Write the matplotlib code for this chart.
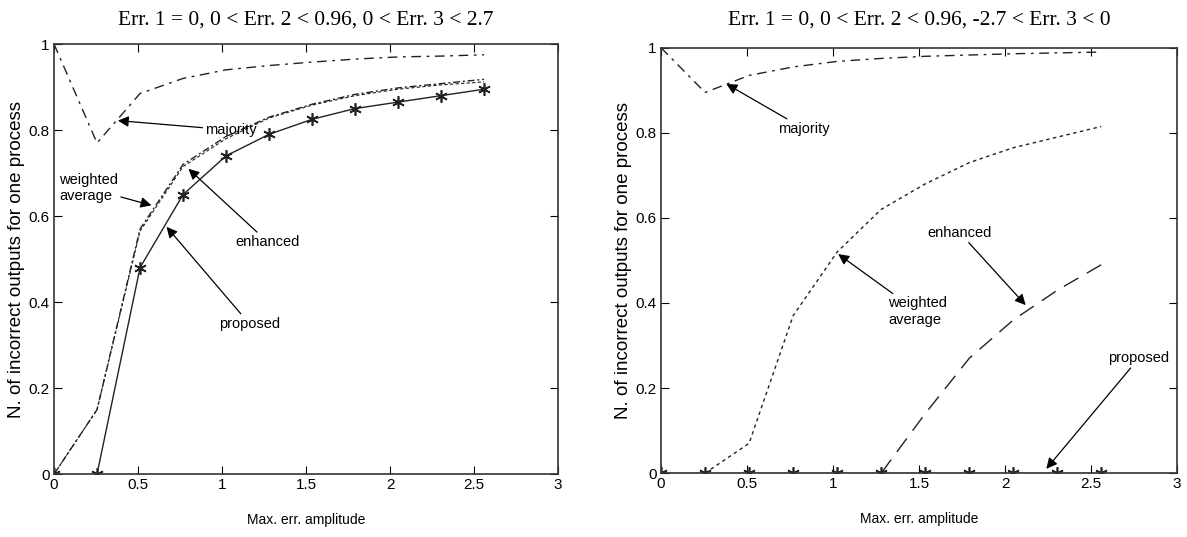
import numpy as np
import matplotlib
matplotlib.use("Agg")
import matplotlib.pyplot as plt

plt.rcParams['font.family'] = ['Liberation Sans', 'DejaVu Sans']

# shared x values (max. error amplitude)
x = [0, 0.256, 0.512, 0.768, 1.024, 1.28, 1.536, 1.792, 2.048, 2.304, 2.56]

# left panel: 0 < Err. 3 < 2.7
left_majority = [1.0, 0.77, 0.885, 0.92, 0.94, 0.95, 0.958, 0.965, 0.97, 0.972, 0.975]
left_weighted = [0.0, 0.15, 0.57, 0.72, 0.785, 0.83, 0.86, 0.883, 0.898, 0.908, 0.918]
left_enhanced = [0.0, 0.15, 0.565, 0.715, 0.78, 0.828, 0.858, 0.88, 0.895, 0.905, 0.912]
left_proposed = [0.0, 0.0, 0.48, 0.65, 0.74, 0.79, 0.825, 0.85, 0.865, 0.88, 0.895]

# right panel: -2.7 < Err. 3 < 0
right_majority = [1.0, 0.895, 0.935, 0.955, 0.968, 0.975, 0.98, 0.983, 0.986, 0.988, 0.99]
right_weighted = [0.0, 0.0, 0.07, 0.37, 0.52, 0.62, 0.68, 0.73, 0.765, 0.79, 0.815]
right_enhanced = [0.0, 0.0, 0.0, 0.0, 0.0, 0.0, 0.14, 0.27, 0.36, 0.43, 0.49]
right_proposed = [0.0] * 11

titles = ["Err. 1 = 0, 0 < Err. 2 < 0.96, 0 < Err. 3 < 2.7",
          "Err. 1 = 0, 0 < Err. 2 < 0.96, -2.7 < Err. 3 < 0"]

fig = plt.figure(figsize=(11.87, 5.37), dpi=100)
ax1 = fig.add_axes([0.0455, 0.117, 0.4246, 0.801])
ax2 = fig.add_axes([0.5569, 0.119, 0.4347, 0.792])

col = '#222222'
arrow = dict(arrowstyle='-|>', color='k', lw=0.9, mutation_scale=16, shrinkA=0, shrinkB=0)
fs = 10.5
star = (6, 2, 0)  # asterisk marker

# left
ax1.plot(x, left_majority, color=col, lw=1.0, ls=(0, (7, 4, 2, 4)))
ax1.plot(x, left_weighted, color=col, lw=1.0, ls=(0, (5, 2, 1.5, 2)))
ax1.plot(x, left_enhanced, color=col, lw=0.8, ls=(0, (3, 2)))
ax1.plot(x[1:], left_proposed[1:], color=col, lw=1.0, marker=star, ms=9, mew=1.2)
ax1.plot([0], [0], color=col, marker=star, ms=9, mew=1.2)

ax1.annotate("majority", xy=(0.38, 0.822), xytext=(0.9, 0.8), arrowprops=arrow,
             ha='left', va='center', fontsize=fs)
ax1.annotate("weighted\naverage", xy=(0.58, 0.625), xytext=(0.03, 0.665), arrowprops=arrow,
             ha='left', va='center', fontsize=fs)
ax1.annotate("enhanced", xy=(0.8, 0.71), xytext=(1.08, 0.54), arrowprops=arrow,
             ha='left', va='center', fontsize=fs)
ax1.annotate("proposed", xy=(0.67, 0.575), xytext=(0.98, 0.35), arrowprops=arrow,
             ha='left', va='center', fontsize=fs)

# right
ax2.plot(x, right_majority, color=col, lw=1.0, ls=(0, (7, 4, 2, 4)))
ax2.plot(x[1:], right_weighted[1:], color=col, lw=1.0, ls=(0, (2.5, 2.5)))
ax2.plot(x[5:], right_enhanced[5:], color=col, lw=1.0, ls=(0, (12, 7)))
ax2.plot(x, right_proposed, color=col, lw=1.0, marker=star, ms=9, mew=1.2)

ax2.annotate("majority", xy=(0.38, 0.915), xytext=(0.68, 0.81), arrowprops=arrow,
             ha='left', va='center', fontsize=fs)
ax2.annotate("weighted\naverage", xy=(1.03, 0.515), xytext=(1.32, 0.38), arrowprops=arrow,
             ha='left', va='center', fontsize=fs)
ax2.annotate("enhanced", xy=(2.12, 0.395), xytext=(1.55, 0.565), arrowprops=arrow,
             ha='left', va='center', fontsize=fs)
ax2.annotate("proposed", xy=(2.24, 0.01), xytext=(2.6, 0.27), arrowprops=arrow,
             ha='left', va='center', fontsize=fs)

for ax, t, tp in zip([ax1, ax2], titles, [14, 16.5]):
    ax.set_xlim(0, 3)
    ax.set_ylim(0, 1)
    ax.set_xticks([0, 0.5, 1, 1.5, 2, 2.5, 3])
    ax.set_xticklabels(["0", "0.5", "1", "1.5", "2", "2.5", "3"])
    ax.set_yticks([0, 0.2, 0.4, 0.6, 0.8, 1])
    ax.set_yticklabels(["0", "0.2", "0.4", "0.6", "0.8", "1"])
    ax.tick_params(direction='in', top=True, right=True, length=6, labelsize=11, pad=3)
    for s in ax.spines.values():
        s.set_linewidth(1.2)
        s.set_color('#333333')
    ax.set_xlabel("Max. err. amplitude", fontsize=10, labelpad=15)
    ax.set_ylabel("N. of incorrect outputs for one process", fontsize=13.5, labelpad=3)
    ax.set_title(t, family='Liberation Serif', fontsize=15.5, pad=tp)

fig.savefig("out.png", dpi=100)
